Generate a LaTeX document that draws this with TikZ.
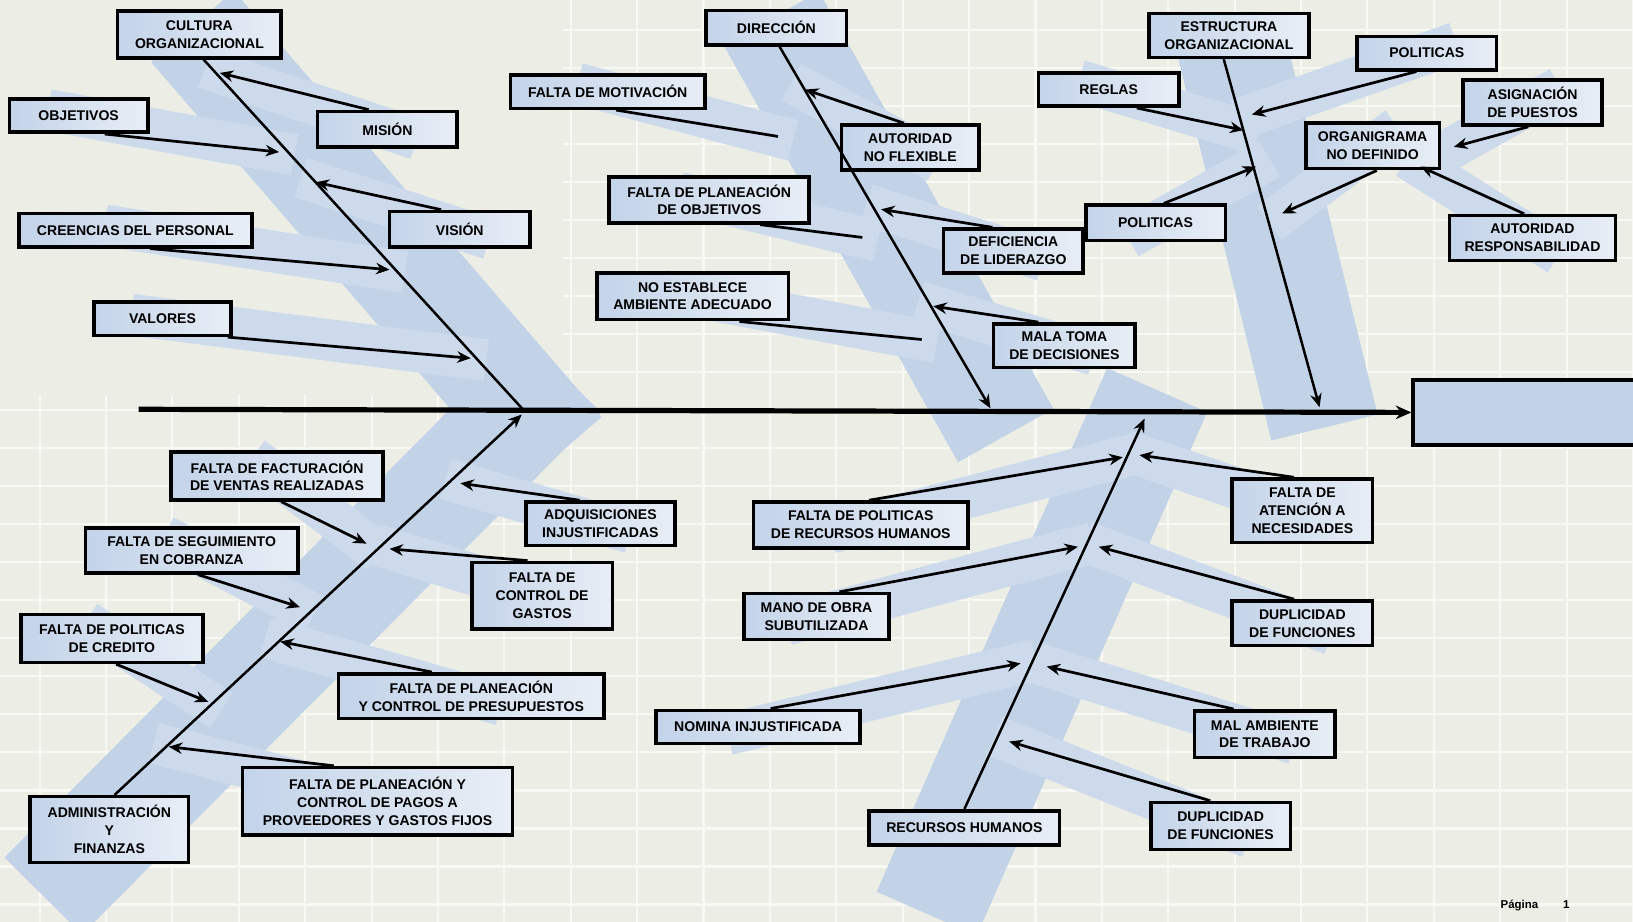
\documentclass[tikz,border=0pt]{standalone}
\usepackage{fontspec}
\setmainfont{Liberation Sans}
\usetikzlibrary{arrows.meta}
\definecolor{bgc}{HTML}{ECEEE5}
\definecolor{gridc}{HTML}{F8F9F5}
\definecolor{banda}{HTML}{C2D3E8}
\definecolor{bandb}{HTML}{CCDAEC}
\definecolor{boxa}{HTML}{C3D3E9}
\definecolor{boxb}{HTML}{E8EEF6}
\pgfdeclarelayer{background}
\pgfsetlayers{background,main}
\tikzset{
 box/.style={draw=black, line width=3.4pt, left color=boxa, right color=boxb, align=center,
   font=\fontsize{13.5}{17}\selectfont\bfseries, inner sep=1pt},
 effectbox/.style={draw=black, line width=3.5pt, fill=banda},
 bandmain/.style={draw=banda, line width=105pt, line cap=butt},
 bandsub/.style={draw=bandb, line width=40pt, line cap=butt},
 subarrow/.style={draw=black, line width=2.6pt, -{Stealth[length=13pt,width=11pt]}},
 subline/.style={draw=black, line width=2.6pt},
 bone/.style={draw=black, line width=2.4pt},
 bonearrow/.style={bone, -{Stealth[length=13pt,width=11pt]}},
 spine/.style={draw=black, line width=5pt, -{Stealth[length=15pt,width=13pt]}},
 gridline/.style={draw=gridc, line width=2pt},
 pagetext/.style={font=\fontsize{11}{12}\selectfont\bfseries, inner sep=0pt},
}
\begin{document}
\begin{tikzpicture}[x=1pt,y=-1pt]
\useasboundingbox (0,0) rectangle (1568,885);

% ---------- boxes: ADMINISTRACION Y FINANZAS ----------
\node[box,minimum width=157pt,minimum height=45pt] (cultura) at (191.5,33) {CULTURA\\ORGANIZACIONAL};
\node[box,minimum width=133pt,minimum height=32pt] (objetivos) at (75.5,111) {OBJETIVOS};
\node[box,minimum width=134pt,minimum height=34pt] (mision) at (372,124) {MISIÓN};
\node[box,minimum width=224pt,minimum height=32pt] (creencias) at (130,221) {CREENCIAS DEL PERSONAL};
\node[box,minimum width=135pt,minimum height=34pt] (vision) at (441.5,220) {VISIÓN};
\node[box,minimum width=132pt,minimum height=32pt] (valores) at (156,306) {VALORES};
\node[box,minimum width=204pt,minimum height=46pt] (facturacion) at (266,457) {FALTA DE FACTURACIÓN\\DE VENTAS REALIZADAS};
\node[box,minimum width=204pt,minimum height=43pt] (seguimiento) at (184,528.5) {FALTA DE SEGUIMIENTO\\EN COBRANZA};
\node[box,minimum width=143pt,minimum height=42pt] (adquisiciones) at (576.5,503) {ADQUISICIONES\\INJUSTIFICADAS};
\node[box,minimum width=135pt,minimum height=64pt] (gastos) at (520.5,572) {FALTA DE\\CONTROL DE\\GASTOS};
\node[box,minimum width=175pt,minimum height=46pt] (credito) at (107.5,613) {FALTA DE POLITICAS\\DE CREDITO};
\node[box,minimum width=255pt,minimum height=43pt] (presupuestos) at (452.5,668.5) {FALTA DE PLANEACIÓN\\Y CONTROL DE PRESUPUESTOS};
\node[box,minimum width=259pt,minimum height=65pt] (pagos) at (362.5,769.5) {FALTA DE PLANEACIÓN Y\\CONTROL DE PAGOS A\\PROVEEDORES Y GASTOS FIJOS};
\node[box,minimum width=152pt,minimum height=63pt] (admin) at (105,796.5) {ADMINISTRACIÓN\\Y\\FINANZAS};

% ---------- boxes: DIRECCION ----------
\node[box,minimum width=135pt,minimum height=33pt] (direccion) at (745.5,26.5) {DIRECCIÓN};
\node[box,minimum width=187pt,minimum height=32pt] (motivacion) at (583.5,88) {FALTA DE MOTIVACIÓN};
\node[box,minimum width=132pt,minimum height=43pt] (autoridad) at (874,141.5) {AUTORIDAD\\NO FLEXIBLE};
\node[box,minimum width=192pt,minimum height=44pt] (planobj) at (681,192) {FALTA DE PLANEACIÓN\\DE OBJETIVOS};
\node[box,minimum width=134pt,minimum height=42pt] (liderazgo) at (973,241) {DEFICIENCIA\\DE LIDERAZGO};
\node[box,minimum width=184pt,minimum height=45pt] (ambiente) at (665,284.5) {NO ESTABLECE\\AMBIENTE ADECUADO};
\node[box,minimum width=136pt,minimum height=42pt] (decisiones) at (1022,332) {MALA TOMA\\DE DECISIONES};

% ---------- boxes: ESTRUCTURA ORGANIZACIONAL ----------
\node[box,minimum width=154pt,minimum height=42pt] (estructura) at (1180,34) {ESTRUCTURA\\ORGANIZACIONAL};
\node[box,minimum width=134pt,minimum height=32pt] (politicas1) at (1370,51) {POLITICAS};
\node[box,minimum width=135pt,minimum height=32pt] (reglas) at (1064.5,86) {REGLAS};
\node[box,minimum width=133pt,minimum height=43pt] (asignacion) at (1471.5,98.5) {ASIGNACIÓN\\DE PUESTOS};
\node[box,minimum width=128pt,minimum height=44pt] (organigrama) at (1318,140) {ORGANIGRAMA\\NO DEFINIDO};
\node[box,minimum width=134pt,minimum height=34pt] (politicas2) at (1109.5,214) {POLITICAS};
\node[box,minimum width=159pt,minimum height=43pt] (autresp) at (1471.5,228.5) {AUTORIDAD\\RESPONSABILIDAD};
\node[effectbox,minimum width=218pt,minimum height=62pt] (efecto) at (1466,396) {};

% ---------- boxes: RECURSOS HUMANOS ----------
\node[box,minimum width=206pt,minimum height=44pt] (politicasrh) at (826.5,504) {FALTA DE POLITICAS\\DE RECURSOS HUMANOS};
\node[box,minimum width=135pt,minimum height=61pt] (atencion) at (1250.5,490.5) {FALTA DE\\ATENCIÓN A\\NECESIDADES};
\node[box,minimum width=139pt,minimum height=44pt] (manoobra) at (784,592) {MANO DE OBRA\\SUBUTILIZADA};
\node[box,minimum width=135pt,minimum height=43pt] (duplicidad1) at (1250.5,598.5) {DUPLICIDAD\\DE FUNCIONES};
\node[box,minimum width=196pt,minimum height=32pt] (nomina) at (728,698) {NOMINA INJUSTIFICADA};
\node[box,minimum width=135pt,minimum height=45pt] (malambiente) at (1214.5,705) {MAL AMBIENTE\\DE TRABAJO};
\node[box,minimum width=183pt,minimum height=33pt] (rrhh) at (926,795) {RECURSOS HUMANOS};
\node[box,minimum width=134pt,minimum height=45pt] (duplicidad2) at (1172,793) {DUPLICIDAD\\DE FUNCIONES};

\node[pagetext] (pagina) at (1459,869) {Página};
\node[pagetext] (pagnum) at (1504,869) {1};

% ---------- coordinates ----------
\coordinate (sp0) at (133,393);
\coordinate (s1) at (502,393);
\coordinate (s2) at (501,398);
\coordinate (s3) at (951,392);
\coordinate (s4) at (1267,391);
\coordinate (s5) at (1099,402);

\coordinate (eMision) at (211,70);
\coordinate (eObjetivos) at (268,146);
\coordinate (eVision) at (303,175);
\coordinate (eCreencias) at (374,259);
\coordinate (eValores) at (452,344);
\coordinate (eFacturacion) at (352,522);
\coordinate (eAdquisiciones) at (442,464);
\coordinate (eGastos) at (374,527);
\coordinate (eSeguimiento) at (288,583);
\coordinate (ePresupuestos) at (269,616);
\coordinate (eCredito) at (200,674);
\coordinate (ePagos) at (162,717);

\coordinate (eAutoridad) at (773,86);
\coordinate (eMotivacion) at (747,131);
\coordinate (eLiderazgo) at (846,201);
\coordinate (ePlanobj) at (828,228);
\coordinate (eDecisiones) at (896,294);
\coordinate (eAmbiente) at (885,326);

\coordinate (eReglas) at (1194,125);
\coordinate (ePoliticas1) at (1202,110);
\coordinate (eAsignacion) at (1396,141);
\coordinate (eOrganigrama) at (1231,205);
\coordinate (ePoliticas2) at (1206,160);
\coordinate (eAutresp) at (1364,160);

\coordinate (ePoliticasrh) at (1078,439);
\coordinate (eAtencion) at (1094,437);
\coordinate (eManoobra) at (1035,525);
\coordinate (eDuplicidad1) at (1055,525);
\coordinate (eNomina) at (980,637);
\coordinate (eMalambiente) at (1005,640);
\coordinate (eDuplicidad2) at (969,712);

% ---------- background, grid and blue bands ----------
\begin{pgfonlayer}{background}
\fill[bgc] (0,0) rectangle (1568,885);
\begin{scope}
 \clip (540,0) rectangle (1568,885);
 \foreach \x in {38,101.75,...,1568} \draw[gridline] (\x,0) -- (\x,885);
 \foreach \y in {29,65.5,...,885} \draw[gridline] (0,\y) -- (1568,\y);
\end{scope}
\begin{scope}
 \clip (0,380) rectangle (540,885);
 \foreach \x in {38,101.75,...,540} \draw[gridline] (\x,0) -- (\x,885);
 \foreach \y in {29,65.5,...,885} \draw[gridline] (0,\y) -- (1568,\y);
\end{scope}
\draw[bandmain, shorten <=-10pt, shorten >=-55pt] (cultura.center) -- (s1);
\draw[bandmain, shorten <=-90pt, shorten >=-55pt] (admin.center) -- (s2);
\draw[bandmain, shorten <=-10pt, shorten >=-30pt] (direccion.center) -- (s3);
\draw[bandmain, shorten <=-10pt, shorten >=-20pt] (estructura.center) -- (s4);
\draw[bandmain, shorten <=-90pt, shorten >=-30pt] (rrhh.center) -- (s5);
\foreach \n/\e in {mision/eMision, objetivos/eObjetivos, vision/eVision, creencias/eCreencias,
  valores/eValores, facturacion/eFacturacion, adquisiciones/eAdquisiciones, gastos/eGastos,
  seguimiento/eSeguimiento, presupuestos/ePresupuestos, credito/eCredito, pagos/ePagos,
  autoridad/eAutoridad, motivacion/eMotivacion, liderazgo/eLiderazgo, planobj/ePlanobj,
  decisiones/eDecisiones, ambiente/eAmbiente, reglas/eReglas, politicas1/ePoliticas1,
  asignacion/eAsignacion, organigrama/eOrganigrama, politicas2/ePoliticas2, autresp/eAutresp,
  politicasrh/ePoliticasrh, atencion/eAtencion, manoobra/eManoobra, duplicidad1/eDuplicidad1,
  nomina/eNomina, malambiente/eMalambiente, duplicidad2/eDuplicidad2}
  \draw[bandsub, shorten <=-30pt, shorten >=-15pt] (\n.center) -- (\e);
\end{pgfonlayer}

% ---------- spine and category bones ----------
\draw[spine] (sp0) -- (efecto.west);
\draw[bone] ([xshift=4pt]cultura.south) -- (s1);
\draw[bonearrow] ([xshift=5pt]admin.north) -- (s2);
\draw[bonearrow] ([xshift=3pt]direccion.south) -- (s3);
\draw[bonearrow] ([xshift=-5pt]estructura.south) -- (s4);
\draw[bonearrow] (rrhh.north) -- (s5);

% ---------- sub-causes ----------
\draw[subarrow] ([xshift=-18pt]mision.north) -- (eMision);
\draw[subarrow] ([xshift=25pt]objetivos.south) -- (eObjetivos);
\draw[subarrow] ([xshift=-18pt]vision.north) -- (eVision);
\draw[subarrow] ([xshift=14pt]creencias.south) -- (eCreencias);
\draw[subarrow] ([xshift=-5pt]valores.south east) -- (eValores);
\draw[subarrow] ([xshift=4pt]facturacion.south) -- (eFacturacion);
\draw[subarrow] ([xshift=-20pt]adquisiciones.north) -- (eAdquisiciones);
\draw[subarrow] ([xshift=-14pt]gastos.north) -- (eGastos);
\draw[subarrow] ([xshift=6pt]seguimiento.south) -- (eSeguimiento);
\draw[subarrow] ([xshift=-38pt]presupuestos.north) -- (ePresupuestos);
\draw[subarrow] ([xshift=4pt]credito.south) -- (eCredito);
\draw[subarrow] ([xshift=-42pt]pagos.north) -- (ePagos);

\draw[subarrow] ([xshift=-6pt]autoridad.north) -- (eAutoridad);
\draw[subline] ([xshift=8pt]motivacion.south) -- (eMotivacion);
\draw[subarrow] ([xshift=-20pt]liderazgo.north) -- (eLiderazgo);
\draw[subline] ([xshift=49pt]planobj.south) -- (ePlanobj);
\draw[subarrow] ([xshift=-25pt]decisiones.north) -- (eDecisiones);
\draw[subline] ([xshift=45pt]ambiente.south) -- (eAmbiente);

\draw[subarrow] ([xshift=27pt]reglas.south) -- (eReglas);
\draw[subarrow] ([xshift=-10pt]politicas1.south) -- (ePoliticas1);
\draw[subarrow] ([xshift=-4pt]asignacion.south) -- (eAsignacion);
\draw[subarrow] ([xshift=4pt]organigrama.south) -- (eOrganigrama);
\draw[subarrow] ([xshift=8pt]politicas2.north) -- (ePoliticas2);
\draw[subarrow] ([xshift=-8pt]autresp.north) -- (eAutresp);

\draw[subarrow] ([xshift=8pt]politicasrh.north) -- (ePoliticasrh);
\draw[subarrow] ([xshift=-8pt]atencion.north) -- (eAtencion);
\draw[subarrow] ([xshift=22pt]manoobra.north) -- (eManoobra);
\draw[subarrow] ([xshift=-8pt]duplicidad1.north) -- (eDuplicidad1);
\draw[subarrow] ([xshift=12pt]nomina.north) -- (eNomina);
\draw[subarrow] ([xshift=-30pt]malambiente.north) -- (eMalambiente);
\draw[subarrow] ([xshift=-10pt]duplicidad2.north) -- (eDuplicidad2);
\end{tikzpicture}
\end{document}
